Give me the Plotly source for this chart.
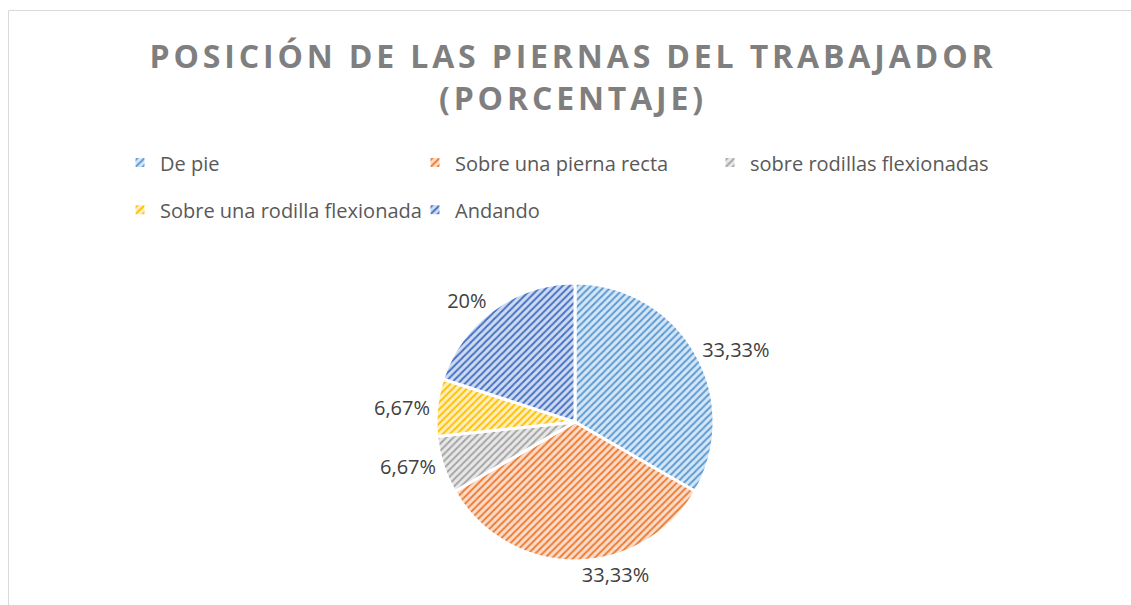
import plotly.graph_objects as go

categories = ["De pie", "Sobre una pierna recta", "sobre rodillas flexionadas",
              "Sobre una rodilla flexionada", "Andando"]
values = [33.33, 33.33, 6.67, 6.67, 20]
colors = ["#5B9BD5", "#ED7D31", "#A5A5A5", "#FFC000", "#4472C4"]
bg_colors = ["#D6E6F5", "#FBDCCD", "#E8E8E8", "#FFEFBF", "#D0DBF1"]
title_lines = ["POSICIÓN DE LAS PIERNAS DEL TRABAJADOR", "(PORCENTAJE)"]

W, H = 1131, 605

legend_labels = ['<span style="font-size:20px;baseline-shift:5px">%s</span>' % c for c in categories]

fig = go.Figure(go.Pie(
    labels=legend_labels,
    values=values,
    sort=False,
    direction="clockwise",
    rotation=0,
    marker=dict(
        colors=colors,
        line=dict(color="white", width=3),
        pattern=dict(shape="/", fgcolor=colors, bgcolor=bg_colors,
                     size=5, solidity=0.4, fillmode="replace"),
    ),
    texttemplate="%{value}%",
    textposition="outside",
    textfont=dict(family="Open Sans", size=20, color="#404040"),
    outsidetextfont=dict(family="Open Sans", size=20, color="#404040"),
    domain=dict(x=[436 / W, 714 / W], y=[44 / H, 322 / H]),
    hoverinfo="label+percent",
))

title_html = "<br>".join('<span style="letter-spacing:3.85px">%s</span>' % t for t in title_lines)

fig.update_layout(
    width=W, height=H,
    margin=dict(l=0, r=0, t=0, b=0),
    paper_bgcolor="white",
    separators=",.",
    title=dict(text=title_html, x=573 / W, xanchor="center", y=1 - 68 / H, yanchor="top",
               font=dict(family="Open Sans", size=32, color="#7F7F7F", weight="bold")),
    legend=dict(orientation="h", x=120 / W, xanchor="left", y=1 - 134 / H, yanchor="top",
                entrywidth=250, entrywidthmode="pixels",
                font=dict(family="Open Sans", size=34, color="#595959"),
                itemwidth=30, bgcolor="rgba(0,0,0,0)"),
    shapes=[dict(type="rect", xref="paper", yref="paper",
                 x0=8.5 / W, x1=1.05, y0=-0.05, y1=1 - 10.5 / H,
                 line=dict(color="#D9D9D9", width=1), fillcolor="rgba(0,0,0,0)")],
    showlegend=True,
)

fig.write_html("out.html", config={"displayModeBar": False},
               post_script="document.body.style.margin='0px';")
